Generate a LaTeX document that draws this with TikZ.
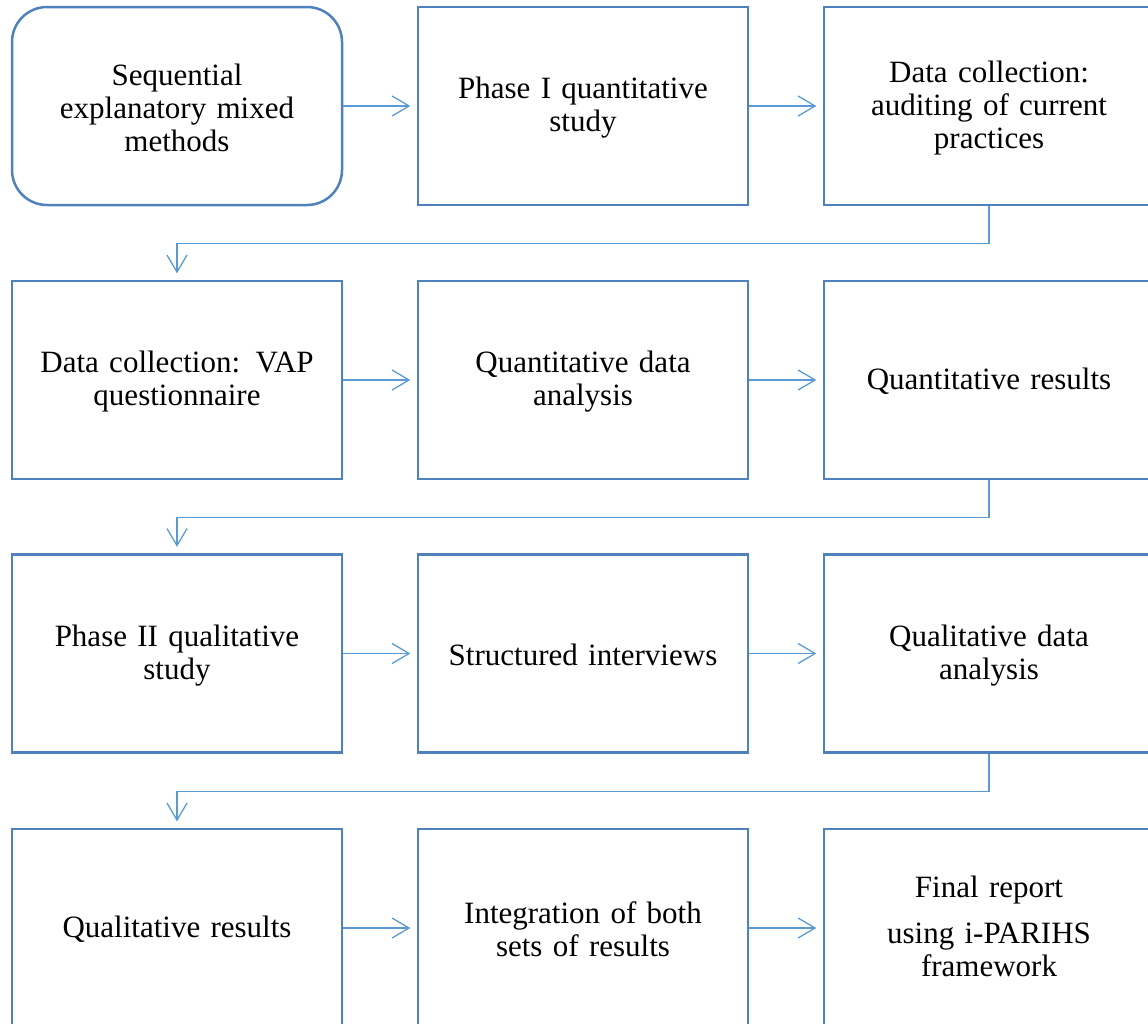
\documentclass[tikz,border=0pt]{standalone}
\usepackage{fontspec}
\setmainfont[WordSpace=0.85]{Liberation Serif}
\usetikzlibrary{arrows.meta}
\definecolor{boxblue}{RGB}{79,129,189}
\definecolor{lineblue}{RGB}{91,155,213}
\tikzset{
  boxstyle/.style={draw=boxblue, line width=1.25pt, minimum width=165pt, minimum height=99pt,
    align=center, text width=160pt, inner sep=0pt, font=\fontsize{15.5}{16.5}\selectfont,
    execute at begin node={\rule{0pt}{12.5pt}}},
  roundbox/.style={boxstyle, rounded corners=17.5pt},
  conn/.style={draw=lineblue, line width=0.65pt, -{Straight Barb[length=8.5pt,width=10pt]}, shorten >=3.2pt}
}
\begin{document}
\begin{tikzpicture}[x=0.5pt,y=-0.5pt]
\useasboundingbox (0,0) rectangle (1148,1024);
\clip (0,0) rectangle (1148,1024);
% row 1
\node[roundbox] (a1) at (177,106) {Sequential\\explanatory mixed\\methods};
\node[boxstyle] (a2) at (583,106) {Phase I quantitative\\study};
\node[boxstyle] (a3) at (989,106) {Data collection:\\auditing of current\\practices};
% row 2
\node[boxstyle] (b1) at (177,380) {Data collection: VAP\\questionnaire};
\node[boxstyle] (b2) at (583,380) {Quantitative data\\analysis};
\node[boxstyle] (b3) at (989,380) {Quantitative results};
% row 3
\node[boxstyle] (c1) at (177,653.5) {Phase II qualitative\\study};
\node[boxstyle] (c2) at (583,653.5) {Structured interviews};
\node[boxstyle] (c3) at (989,653.5) {Qualitative data\\analysis};
% row 4
\node[boxstyle] (d1) at (177,928) {Qualitative results};
\node[boxstyle] (d2) at (583,928) {Integration of both\\sets of results};
\node[boxstyle] (d3) at (989,928) {Final report\\[6.5pt]using i-PARIHS\\framework\rule[-3.5pt]{0pt}{3.5pt}};
% horizontal connectors
\draw[conn] (a1.east) -- (a2.west);
\draw[conn] (a2.east) -- (a3.west);
\draw[conn] (b1.east) -- (b2.west);
\draw[conn] (b2.east) -- (b3.west);
\draw[conn] (c1.east) -- (c2.west);
\draw[conn] (c2.east) -- (c3.west);
\draw[conn] (d1.east) -- (d2.west);
\draw[conn] (d2.east) -- (d3.west);
% row-to-row connectors
\draw[conn] (a3.south) -- ++(0,37) -| (b1.north);
\draw[conn] (b3.south) -- ++(0,37) -| (c1.north);
\draw[conn] (c3.south) -- ++(0,38) -| (d1.north);
\end{tikzpicture}
\end{document}
